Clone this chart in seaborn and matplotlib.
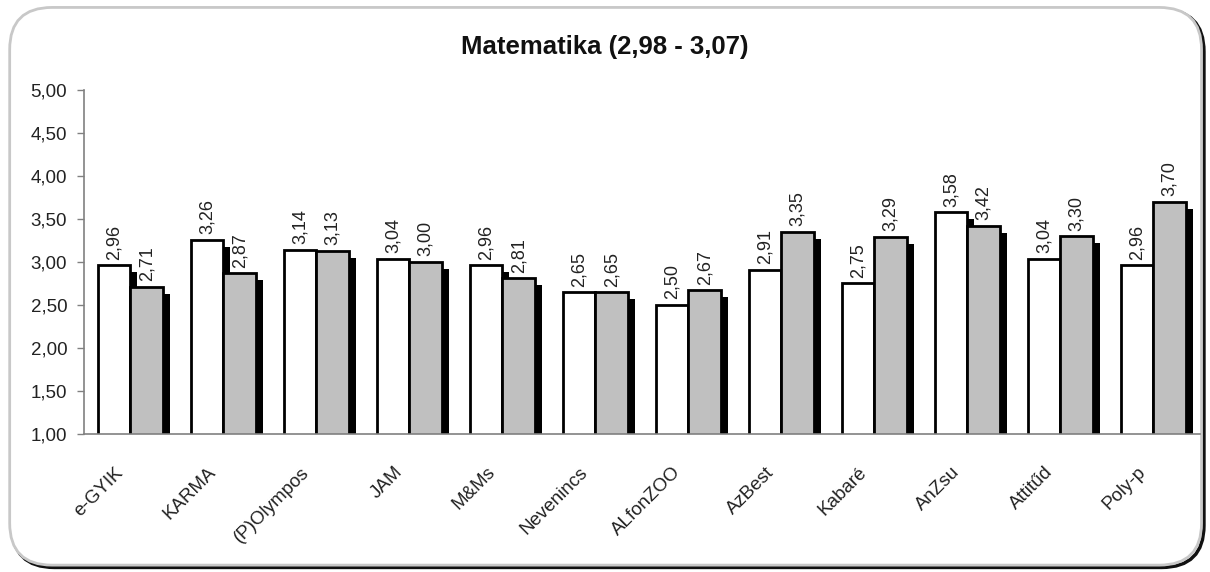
import matplotlib
matplotlib.use("Agg")
import matplotlib.pyplot as plt
import matplotlib.patheffects as pe
import matplotlib.transforms as mtransforms
from matplotlib.patches import FancyBboxPatch
import seaborn as sns
import pandas as pd
import numpy as np

categories = ["e-GYIK", "KARMA", "(P)Olympos", "JAM", "M&Ms", "Nevenincs",
              "ALfonZOO", "AzBest", "Kabaré", "AnZsu", "Attitűd", "Poly-p"]
series_a = [2.96, 3.26, 3.14, 3.04, 2.96, 2.65, 2.50, 2.91, 2.75, 3.58, 3.04, 2.96]
series_b = [2.71, 2.87, 3.13, 3.00, 2.81, 2.65, 2.67, 3.35, 3.29, 3.42, 3.30, 3.70]
series_names = ["A", "B"]
yticks = [1.0, 1.5, 2.0, 2.5, 3.0, 3.5, 4.0, 4.5, 5.0]
title = "Matematika (2,98 - 3,07)"

df = pd.DataFrame({
    "team": categories * 2,
    "value": series_a + series_b,
    "series": [series_names[0]] * len(categories) + [series_names[1]] * len(categories),
})

sns.set_style("white")
plt.rcParams["font.family"] = ["Liberation Sans", "DejaVu Sans"]

fig = plt.figure(figsize=(12.1, 5.72), dpi=100)
ax = fig.add_axes([0.0694, 0.2413, 0.9223, 0.6014])

sns.barplot(data=df, x="team", y="value", hue="series", order=categories,
            hue_order=series_names, palette=["#ffffff", "#c0c0c0"],
            width=0.70, edgecolor="black", linewidth=2.0, ax=ax, legend=False,
            errorbar=None)

shadow = [pe.SimplePatchShadow(offset=(5, -5), shadow_rgbFace="black", alpha=1.0), pe.Normal()]
for p in ax.patches:
    p.set_path_effects(shadow)

for cont in ax.containers:
    ax.bar_label(cont, labels=[f"{v:.2f}".replace(".", ",") for v in cont.datavalues],
                 rotation=90, padding=4, fontsize=13, color="#222222")

ax.set_ylim(1.0, 5.0)
ax.set_yticks(yticks)
ax.set_yticklabels([f"{v:.2f}".replace(".", ",") for v in yticks], fontsize=13.5, color="#222222")
ax.set_xlim(-0.5, len(categories) - 0.5)
ax.set_xticks(range(len(categories)))
ax.set_xticklabels([])
blend = mtransforms.blended_transform_factory(ax.transData, ax.transAxes)
for i, name in enumerate(categories):
    ax.annotate(name, xy=(i, 0), xycoords=blend, xytext=(-11.5, -21.5),
                textcoords="offset points", rotation=45, rotation_mode="anchor",
                ha="right", va="top", fontsize=13.5, color="#222222", annotation_clip=False)
ax.set_xticks(np.arange(-0.5, len(categories), 1.0), minor=True)
ax.tick_params(axis="x", which="major", length=0)
ax.tick_params(axis="x", which="minor", length=5, color="#808080", width=1, direction="out")
ax.tick_params(axis="y", length=5, color="#808080", width=1, direction="out", left=True, pad=7)
ax.set_xlabel("")
ax.set_ylabel("")
for s in ["top", "right"]:
    ax.spines[s].set_visible(False)
for s in ["left", "bottom"]:
    ax.spines[s].set_color("#808080")
    ax.spines[s].set_linewidth(1.2)

fig.text(0.5, 0.918, title, ha="center", va="center", fontsize=18.5, fontweight="bold", color="#111111")

# rounded frame with dark shadow on bottom/right
frame_shadow = FancyBboxPatch((0.010, 0.008), 0.985, 0.975, boxstyle="round,pad=0,rounding_size=0.035",
                              transform=fig.transFigure, facecolor="none", edgecolor="#111111",
                              linewidth=2.5, mutation_aspect=2.1, zorder=-2)
frame = FancyBboxPatch((0.008, 0.012), 0.985, 0.975, boxstyle="round,pad=0,rounding_size=0.035",
                       transform=fig.transFigure, facecolor="white", edgecolor="#c8c8c8",
                       linewidth=2.0, mutation_aspect=2.1, zorder=-1)
fig.patches.extend([frame_shadow, frame])

fig.savefig("out.png", dpi=100)
